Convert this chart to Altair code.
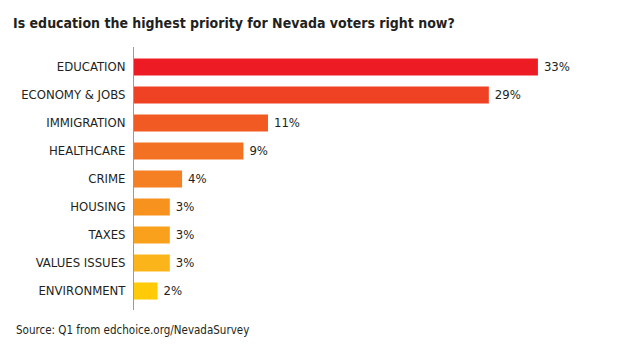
import altair as alt
import pandas as pd

categories = ["EDUCATION", "ECONOMY & JOBS", "IMMIGRATION", "HEALTHCARE", "CRIME",
              "HOUSING", "TAXES", "VALUES ISSUES", "ENVIRONMENT"]
values = [33, 29, 11, 9, 4, 3, 3, 3, 2]
labels = ["33%", "29%", "11%", "9%", "4%", "3%", "3%", "3%", "2%"]
colors = ["#ED1C24", "#EF4123", "#F15A22", "#F37123", "#F58024",
          "#F7921E", "#F9A01C", "#FBB51A", "#FFCB08"]

title_text = "Is education the highest priority for Nevada voters right now?"
source_text = "Source: Q1 from edchoice.org/NevadaSurvey"

df = pd.DataFrame({"cat": categories, "val": values, "lab": labels, "col": colors})

FONT = "'DejaVu Sans Condensed', 'Liberation Sans Narrow', Roboto, sans-serif"
W, H = 480, 252

x = alt.X("val:Q", scale=alt.Scale(domain=[0, W / 12.27], nice=False, zero=True), axis=None)
y = alt.Y("cat:N", sort=categories,
          scale=alt.Scale(paddingInner=0.39, paddingOuter=0.195),
          axis=alt.Axis(title=None, domain=False, ticks=False, grid=False, labelPadding=8,
                        labelFont=FONT, labelFontSize=13, labelColor="#231F20",
                        labelLimit=200))

bars = alt.Chart(df).mark_bar().encode(
    x=x, y=y, color=alt.Color("col:N", scale=None)
)

text = alt.Chart(df).mark_text(align="left", baseline="middle", dx=6, font=FONT,
                               fontSize=13, color="#231F20").encode(
    x=x, y=y, text="lab:N"
)

axis_line = alt.Chart(df).mark_rule(color="#9a9a9a", strokeWidth=1).encode(
    x=alt.value(0.5), y=alt.value(-6), y2=alt.value(H + 5)
)

title = alt.Chart(pd.DataFrame({"t": [title_text]})).mark_text(
    align="left", baseline="alphabetic", font=FONT, fontWeight="bold", fontSize=14,
    color="#231F20"
).encode(x=alt.value(-120), y=alt.value(-25), text="t:N")

source = alt.Chart(pd.DataFrame({"t": [source_text]})).mark_text(
    align="left", baseline="alphabetic", font=FONT, fontSize=11.5, color="#231F20"
).encode(x=alt.value(-117), y=alt.value(H + 29), text="t:N")

chart = alt.layer(bars, text, axis_line, title, source).properties(
    width=W, height=H,
    autosize=alt.AutoSizeParams(type="none"),
    padding={"left": 133, "top": 53, "right": 6, "bottom": 46},
    background="white",
).configure_view(stroke=None)

chart.save("out.html", embed_options={"renderer": "svg", "actions": False})
